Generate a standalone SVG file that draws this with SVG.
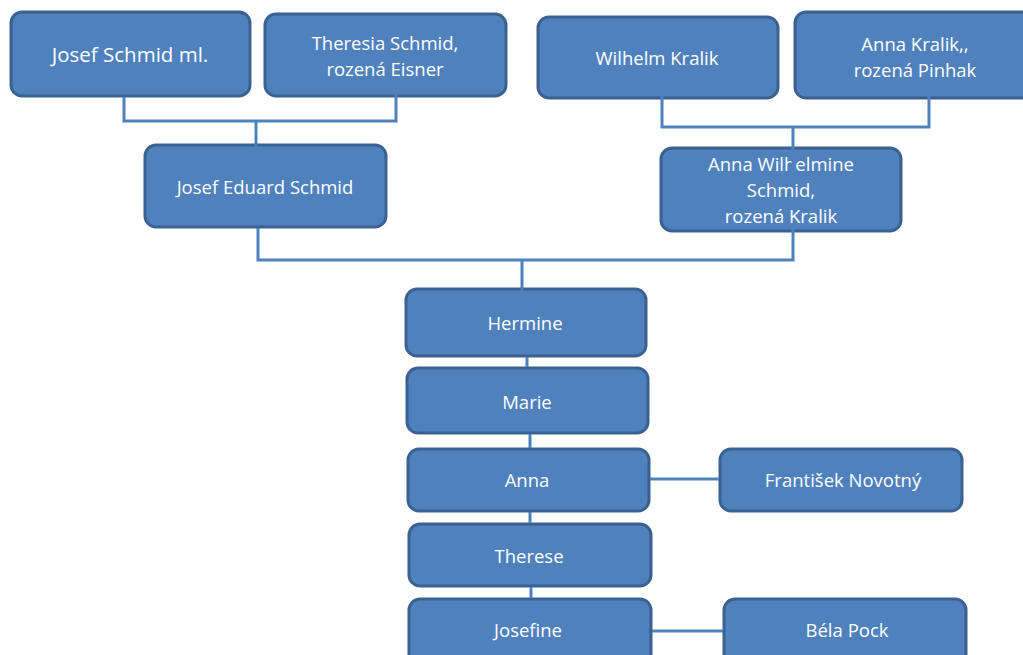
<svg xmlns="http://www.w3.org/2000/svg" width="1023" height="655" viewBox="0 0 1023 655">
<style>
.box{fill:#4F81BD;stroke:#3B6191;stroke-width:3}
.t{fill:#FFFFFF;font-family:"Open Sans","Liberation Sans",sans-serif;text-anchor:middle;dominant-baseline:central}
.s{font-size:18.5px}
.b{font-size:20.5px}
.c{fill:none;stroke:#4F81BD;stroke-width:3}
</style>
<rect width="1023" height="655" fill="#FFFFFF"/>
<g id="n1"><rect class="box" x="11" y="12" width="239" height="84" rx="11"/><text class="t b" x="130" y="54">Josef Schmid ml.</text></g>
<g id="n2"><rect class="box" x="265" y="14" width="241" height="82" rx="11"/><text class="t s" x="385" y="42">Theresia Schmid,</text><text class="t s" x="385" y="68">rozená Eisner</text></g>
<g id="n3"><rect class="box" x="145" y="145" width="241" height="82" rx="11"/><text class="t s" x="265" y="186">Josef Eduard Schmid</text></g>
<g id="n4"><rect class="box" x="538" y="17" width="240" height="81" rx="11"/><text class="t s" x="657" y="57">Wilhelm Kralik</text></g>
<g id="n5"><rect class="box" x="795" y="12" width="245" height="86" rx="11"/><text class="t s" x="915" y="43">Anna Kralik,,</text><text class="t s" x="915" y="69">rozená Pinhak</text></g>
<g id="n6"><rect class="box" x="661" y="148" width="240" height="83" rx="11"/><text class="t s" x="781" y="163">Anna Wilhelmine</text><text class="t s" x="781" y="189">Schmid,</text><text class="t s" x="781" y="215">rozená Kralik</text></g>
<g id="n7"><rect class="box" x="406" y="289" width="240" height="67" rx="11"/><text class="t s" x="525" y="322">Hermine</text></g>
<g id="n8"><rect class="box" x="407" y="368" width="241" height="65" rx="11"/><text class="t s" x="527" y="401">Marie</text></g>
<g id="n9"><rect class="box" x="408" y="449" width="241" height="62" rx="11"/><text class="t s" x="527" y="479">Anna</text></g>
<g id="n10"><rect class="box" x="720" y="449" width="242" height="62" rx="11"/><text class="t s" x="843" y="479">František Novotný</text></g>
<g id="n11"><rect class="box" x="409" y="524" width="242" height="62" rx="11"/><text class="t s" x="529" y="555">Therese</text></g>
<g id="n12"><rect class="box" x="409" y="599" width="242" height="70" rx="11"/><text class="t s" x="528" y="629">Josefine</text></g>
<g id="n13"><rect class="box" x="724" y="599" width="242" height="70" rx="11"/><text class="t s" x="847" y="629">Béla Pock</text></g>
<g id="connectors">
<path class="c" d="M124,97 V121 H396 V83"/>
<path class="c" d="M256,121 V165"/>
<path class="c" d="M662,80 V127 H929 V83"/>
<path class="c" d="M793,127 V173"/>
<path class="c" d="M258,228 V260 H793 V228"/>
<path class="c" d="M522,260 V305"/>
<path class="c" d="M527,357 V367"/>
<path class="c" d="M530,434 V448"/>
<path class="c" d="M530,512 V523"/>
<path class="c" d="M531,587 V598"/>
<path class="c" d="M650,479 H719"/>
<path class="c" d="M652,631 H723"/>
</g>
</svg>
